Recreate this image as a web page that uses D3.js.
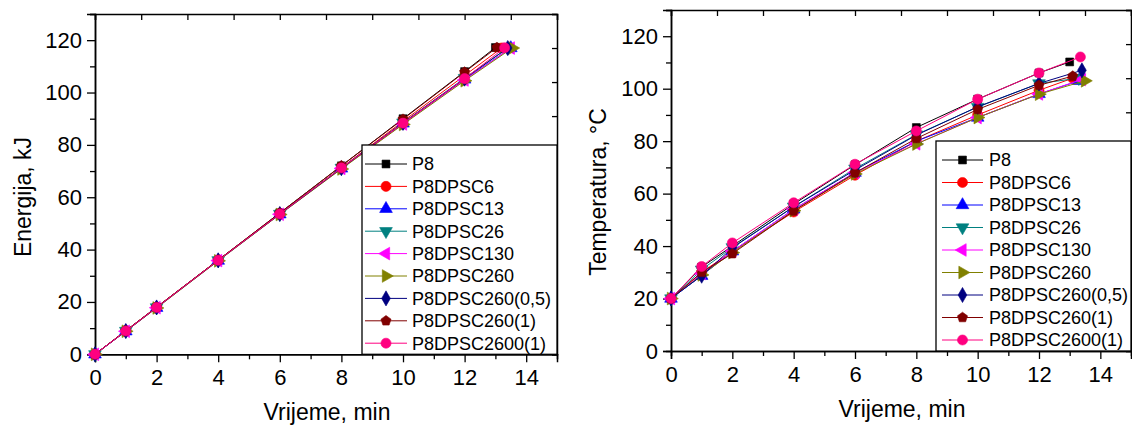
<!DOCTYPE html>
<html><head><meta charset="utf-8">
<script src="https://cdn.jsdelivr.net/npm/d3@7"></script>
<style>body{margin:0;background:#fff}svg{display:block;font-family:"Liberation Sans",Arial,sans-serif}</style>
</head><body>
<svg id="c" width="1132" height="429"></svg>
<script>
const seriesNames = ["P8","P8DPSC6","P8DPSC13","P8DPSC26","P8DPSC130","P8DPSC260","P8DPSC260(0,5)","P8DPSC260(1)","P8DPSC2600(1)"];
const seriesColors = ["#000000","#ff0000","#0000ff","#008080","#ff00ff","#808000","#000080","#800000","#ff0080"];
const markerTypes = ["square","circle","triangleUp","triangleDown","triangleLeft","triangleRight","diamond","pentagon","circle"];
const times = [0,1,2,4,6,8,10,12];
const energyEndTimes = [13.0,13.2,13.5,13.4,13.5,13.55,13.4,13.05,13.3];
const tempEndTimes = [13.0,13.1,13.3,13.3,13.4,13.5,13.4,13.1,13.35];
const energyValues = [
  [0,9.0,18.0,36.0,54.0,72.0,90.0,108.0,117.2],
  [0,9.0,18.0,36.0,53.7,71.3,89.0,106.5,117.0],
  [0,8.8,17.8,35.8,53.5,71.0,88.2,105.0,117.0],
  [0,8.9,17.9,35.9,53.6,71.2,88.5,105.5,117.0],
  [0,8.8,17.8,35.8,53.5,71.0,88.0,104.8,117.0],
  [0,8.8,17.7,35.7,53.4,70.8,87.8,104.5,117.0],
  [0,8.9,17.9,35.9,53.6,71.1,88.4,105.3,117.0],
  [0,9.0,18.0,36.0,54.0,72.0,89.8,107.8,117.2],
  [0,8.9,17.9,35.9,53.6,71.2,88.3,105.3,117.1]
];
const tempValues = [
  [20,32.0,40.0,56.0,71.0,85.2,96.0,106.0,110.2],
  [20,30.0,38.0,53.0,67.0,80.0,90.0,99.4,104.0],
  [20,28.7,38.0,54.0,68.0,80.0,89.0,98.0,103.0],
  [20,31.0,39.5,55.0,69.5,82.5,93.0,102.0,104.0],
  [20,29.5,38.0,54.0,68.0,79.0,89.0,98.0,103.5],
  [20,29.0,37.5,53.5,67.5,78.9,89.0,97.9,103.0],
  [20,28.7,39.3,55.0,69.0,82.3,93.1,102.0,107.0],
  [20,30.0,37.1,53.4,67.9,81.0,92.1,101.3,104.8],
  [20,32.2,41.2,56.5,71.2,83.9,96.0,106.0,112.1]
];
const xTicks = [0,2,4,6,8,10,12,14];
const yTicks = [0,20,40,60,80,100,120];
const xDomain = [0,15];
const yDomain = [0,130];

const FONT = "'Liberation Sans',Arial,sans-serif";
const svg = d3.select("#c");

function markerPath(type){
  const sz = {square:62,circle:80,triangleUp:70,triangleDown:70,triangleLeft:70,triangleRight:70,diamond:66,pentagon:0}[type];
  if(type==="square") return d3.symbol(d3.symbolSquare, sz)();
  if(type==="circle") return d3.symbol(d3.symbolCircle, sz)();
  if(type==="diamond") return d3.symbol(d3.symbolDiamond, sz)();
  if(type.startsWith("triangle")) return d3.symbol(d3.symbolTriangle, sz)();
  if(type==="pentagon"){
    const r=5.3; const pts=d3.range(5).map(k=>{const a=(-90+k*72)*Math.PI/180;return [r*Math.cos(a),r*Math.sin(a)];});
    return "M"+pts.map(p=>p.join(",")).join("L")+"Z";
  }
}
function markerRot(type){
  return {triangleDown:180,triangleLeft:-90,triangleRight:90}[type]||0;
}
function drawMarker(g,type,color,x,y){
  g.append("path").attr("d",markerPath(type))
   .attr("transform",`translate(${x},${y}) rotate(${markerRot(type)})`)
   .attr("fill",color).attr("stroke",color).attr("stroke-width",0.6);
}

function drawChart(cfg){
  const g = svg.append("g");
  const x = d3.scaleLinear().domain(xDomain).range([cfg.x0,cfg.x1]);
  const y = d3.scaleLinear().domain(yDomain).range([cfg.y0,cfg.y1]);

  const bottom = g.append("g").attr("transform",`translate(0,${cfg.y0})`)
    .call(d3.axisBottom(x).tickValues(xTicks).tickSize(8).tickPadding(7).tickFormat(d3.format("d")));
  bottom.append("g").call(d3.axisBottom(x).tickValues(d3.range(1,15,2)).tickSize(5).tickFormat(""));
  const left = g.append("g").attr("transform",`translate(${cfg.x0},0)`)
    .call(d3.axisLeft(y).tickValues(yTicks).tickSize(8).tickPadding(5).tickFormat(d3.format("d")));
  left.append("g").call(d3.axisLeft(y).tickValues(d3.range(10,131,20)).tickSize(5).tickFormat(""));
  g.append("g").attr("transform",`translate(0,${cfg.y1})`)
    .call(d3.axisTop(x).tickValues(d3.range(0,15.01,1.5)).tickSize(-6).tickFormat(""));
  g.append("g").attr("transform",`translate(${cfg.x1},0)`)
    .call(d3.axisRight(y).tickValues(d3.range(0,130.1,13)).tickSize(-5).tickFormat(""));
  g.selectAll(".domain").attr("stroke","#000").attr("stroke-width",1.5);
  g.selectAll(".tick line").attr("stroke","#000").attr("stroke-width",1.3);
  g.selectAll(".tick text").style("font-size","22px").style("font-family",FONT).attr("fill","#000");

  const line = d3.line().x(d=>x(d[0])).y(d=>y(d[1]));
  seriesNames.forEach((name,i)=>{
    const ts = times.concat([cfg.endTimes[i]]);
    const pts = cfg.values[i].map((v,k)=>[ts[k],v]);
    g.append("path").datum(pts).attr("d",line).attr("fill","none")
      .attr("stroke",seriesColors[i]).attr("stroke-width",1);
    pts.forEach(p=>drawMarker(g,markerTypes[i],seriesColors[i],x(p[0]),y(p[1])));
  });

  const L = cfg.legend;
  g.append("rect").attr("x",L.x).attr("y",L.y).attr("width",cfg.x1-L.x).attr("height",cfg.y0-L.y)
    .attr("fill","#fff").attr("stroke","#000").attr("stroke-width",1.3);
  seriesNames.forEach((name,i)=>{
    const ry = L.row0 + i*L.step;
    g.append("line").attr("x1",L.lx0).attr("x2",L.lx1).attr("y1",ry).attr("y2",ry)
      .attr("stroke",seriesColors[i]).attr("stroke-width",1);
    drawMarker(g,markerTypes[i],seriesColors[i],(L.lx0+L.lx1)/2,ry);
    g.append("text").attr("x",L.tx).attr("y",ry).attr("dy","0.35em")
      .style("font-size","18px").style("font-family",FONT).attr("fill","#000").text(name);
  });

  g.append("text").attr("x",(cfg.x0+cfg.x1)/2+1).attr("y",cfg.y0+66)
    .attr("text-anchor","middle").style("font-size","23px").style("font-family",FONT).text("Vrijeme, min");
  g.append("text").attr("transform",`translate(${cfg.ytx},${cfg.yty}) rotate(-90)`)
    .attr("text-anchor","middle").style("font-size","23px").style("font-family",FONT).text(cfg.ytitle);
}

drawChart({x0:95,x1:557,y0:354.3,y1:14,endTimes:energyEndTimes,values:energyValues,
  ytitle:"Energija, kJ",ytx:31,yty:197,
  legend:{x:362,y:145,row0:164,step:22.4,lx0:365,lx1:407,tx:412}});
drawChart({x0:671,x1:1131,y0:351,y1:10,endTimes:tempEndTimes,values:tempValues,
  ytitle:"Temperatura, °C",ytx:606,yty:192,
  legend:{x:936,y:141,row0:160,step:22.5,lx0:942,lx1:983,tx:989}});
</script>
</body></html>
